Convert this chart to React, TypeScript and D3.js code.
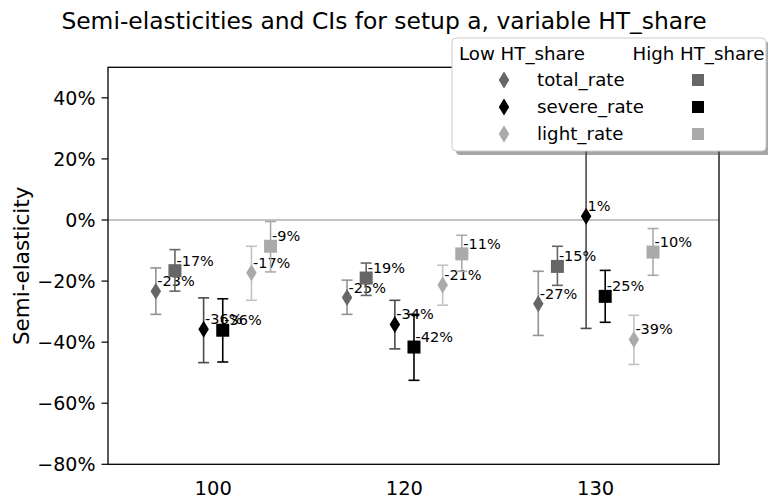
import React from "react";
import * as d3 from "d3";

// Categories along the x axis and the three outcome rates
const categories = ["100", "120", "130"];
const rates = ["total_rate", "severe_rate", "light_rate"];
const rateColors = ["#666666", "#000000", "#aaaaaa"];

// Point estimates (in %) per category, low / high HT_share
const totalLow = [-23.3, -25.4, -27.4];
const totalHigh = [-16.6, -19.0, -15.2];
const severeLow = [-35.8, -34.2, 1.2];
const severeHigh = [-36.1, -41.6, -25.0];
const lightLow = [-17.3, -21.3, -39.1];
const lightHigh = [-8.6, -11.1, -10.5];

// Confidence interval bounds (in %)
const totalLowCI = [[-30.9, -15.7], [-30.9, -19.7], [-37.8, -16.8]];
const totalHighCI = [[-23.3, -9.7], [-24.7, -14.1], [-21.4, -8.6]];
const severeLowCI = [[-46.7, -25.5], [-42.2, -26.3], [-35.5, 38.0]];
const severeHighCI = [[-46.5, -25.8], [-52.5, -30.9], [-33.5, -16.5]];
const lightLowCI = [[-26.3, -8.6], [-27.9, -14.8], [-47.3, -31.2]];
const lightHighCI = [[-17.0, -0.5], [-16.8, -5.0], [-18.1, -2.8]];

const yTicks = [40, 20, 0, -20, -40, -60, -80];

const W = 768;
const H = 500;
const left = 108;
const right = 719;
const top = 67.3;
const bottom = 464.3;
const FONT = "DejaVu Sans, sans-serif";

const x = d3.scaleLinear().domain([-0.55, 2.645]).range([left, right]);
const y = d3.scaleLinear().domain([-80, 50]).range([bottom, top]);

// horizontal offsets of each rate's low / high marker inside a category
const lowOffsets = [-0.3, -0.05, 0.2];
const highOffsets = [-0.2, 0.05, 0.3];

const lowSeries = [totalLow, severeLow, lightLow];
const highSeries = [totalHigh, severeHigh, lightHigh];
const lowCIs = [totalLowCI, severeLowCI, lightLowCI];
const highCIs = [totalHighCI, severeHighCI, lightHighCI];

// error bars of the low group are drawn semi-transparent
const ERR_ALPHA_LOW = 0.7;

const diamondPath = (cx: number, cy: number, w = 10.5, h = 17) =>
  `M${cx},${cy - h / 2}L${cx + w / 2},${cy}L${cx},${cy + h / 2}L${cx - w / 2},${cy}Z`;

const fmtPct = (v: number) => `${Math.round(v)}%`;
const fmtTick = (v: number) => `${v < 0 ? "\u2212" : ""}${Math.abs(v)}%`;

function ErrorBar({ cx, lo, hi, color, opacity }: { cx: number; lo: number; hi: number; color: string; opacity: number }) {
  const cap = 5.5;
  const y1 = y(lo);
  const y2 = y(hi);
  return (
    <g stroke={color} strokeWidth={1.6} opacity={opacity}>
      <line x1={cx} x2={cx} y1={y1} y2={y2} />
      <line x1={cx - cap} x2={cx + cap} y1={y1} y2={y1} />
      <line x1={cx - cap} x2={cx + cap} y1={y2} y2={y2} />
    </g>
  );
}

export default function App() {
  const marks: React.ReactNode[] = [];
  categories.forEach((_, ci) => {
    rates.forEach((_r, ri) => {
      const color = rateColors[ri];
      // low HT_share: diamond
      const lx = x(ci + lowOffsets[ri]);
      const lv = lowSeries[ri][ci];
      const [llo, lhi] = lowCIs[ri][ci];
      marks.push(
        <g key={`l-${ci}-${ri}`}>
          <ErrorBar cx={lx} lo={llo} hi={lhi} color={color} opacity={ERR_ALPHA_LOW} />
          <path d={diamondPath(lx, y(lv))} fill={color} />
          <text x={lx + 1.5} y={y(lv) - 5} fontSize={14.5} fontFamily={FONT} fill="#000">
            {fmtPct(lv)}
          </text>
        </g>
      );
      // high HT_share: square
      const hx = x(ci + highOffsets[ri]);
      const hv = highSeries[ri][ci];
      const [hlo, hhi] = highCIs[ri][ci];
      marks.push(
        <g key={`h-${ci}-${ri}`}>
          <ErrorBar cx={hx} lo={hlo} hi={hhi} color={color} opacity={1} />
          <rect x={hx - 6.5} y={y(hv) - 6.5} width={13} height={13} fill={color} />
          <text x={hx + 1.5} y={y(hv) - 5} fontSize={14.5} fontFamily={FONT} fill="#000">
            {fmtPct(hv)}
          </text>
        </g>
      );
    });
  });

  // legend geometry
  const lgX = 452;
  const lgY = 38;
  const lgW = 314;
  const lgH = 113;
  const rowY = [80, 107, 134];

  return (
    <svg width={W} height={H} style={{ display: "block", position: "absolute", left: 0, top: 0 }} fontFamily={FONT}>
      <rect width={W} height={H} fill="#fff" />
      <text x={384} y={28.5} textAnchor="middle" fontSize={23.4} fill="#000">
        Semi-elasticities and CIs for setup a, variable HT_share
      </text>

      {/* zero reference line */}
      <line x1={left} x2={right} y1={y(0)} y2={y(0)} stroke="#b0b0b0" strokeWidth={1.5} />

      {marks}

      {/* axes frame */}
      <rect x={left} y={top} width={right - left} height={bottom - top} fill="none" stroke="#000" strokeWidth={1.3} />

      {/* y axis */}
      {yTicks.map((t) => (
        <g key={t}>
          <line x1={left - 6.5} x2={left} y1={y(t)} y2={y(t)} stroke="#000" strokeWidth={1.2} />
          <text x={left - 12.5} y={y(t)} dy="0.36em" textAnchor="end" fontSize={19} fill="#000">
            {fmtTick(t)}
          </text>
        </g>
      ))}
      <text transform={`translate(29,${(top + bottom) / 2}) rotate(-90)`} textAnchor="middle" fontSize={21.5} fill="#000">
        Semi-elasticity
      </text>

      {/* x axis labels */}
      {categories.map((c, i) => (
        <text key={c} x={x(i)} y={495} textAnchor="middle" fontSize={19.5} fill="#000">
          {c}
        </text>
      ))}

      {/* legend */}
      <rect x={lgX + 4} y={lgY + 4} width={lgW} height={lgH} rx={4} fill="#4d4d4d" opacity={0.5} />
      <rect x={lgX} y={lgY} width={lgW} height={lgH} rx={4} fill="#fff" stroke="#cccccc" strokeWidth={1} />
      <text x={459} y={59.5} fontSize={18.2} fill="#000">Low HT_share</text>
      <text x={632.5} y={59.5} fontSize={18.2} fill="#000">High HT_share</text>
      {rates.map((r, i) => (
        <g key={r}>
          <path d={diamondPath(504, rowY[i])} fill={rateColors[i]} />
          <text x={537} y={rowY[i] + 5.8} fontSize={18.2} fill="#000">{r}</text>
          <rect x={698 - 6} y={rowY[i] - 6} width={12} height={12} fill={rateColors[i]} />
        </g>
      ))}
    </svg>
  );
}
